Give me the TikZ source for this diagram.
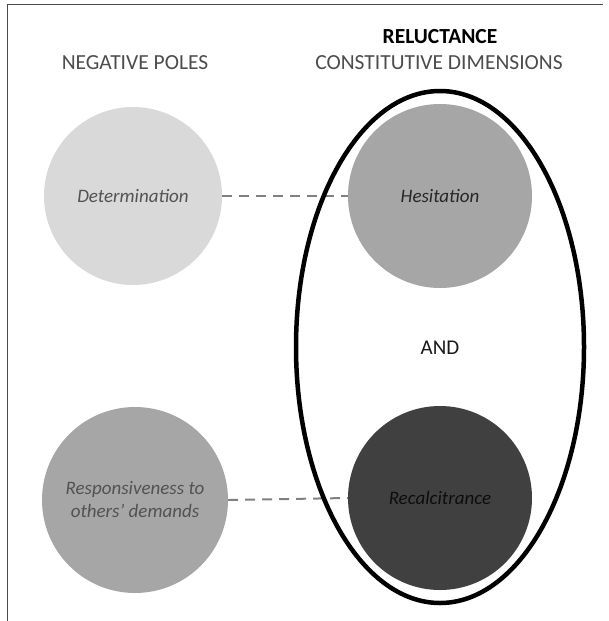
\documentclass[tikz,border=0pt]{standalone}
\usepackage{fontspec}
\setmainfont{Carlito}
\begin{document}
\begin{tikzpicture}[x=1pt,y=-1pt,
  title/.style={text=black!70, font=\fontsize{21.5}{25}\selectfont},
  pole/.style={circle, minimum size=#1, inner sep=0pt, draw=none, align=center,
     text=black!68, font=\fontsize{19}{23}\selectfont\itshape},
  dimlink/.style={dashed, dash pattern=on 10pt off 7pt, draw=black!50, line width=2pt}]
\useasboundingbox (0,0) rectangle (609,621);
\draw[black!70, line width=1.6pt] (7.5,621) -- (7.5,4.5) -- (603,4.5);
% titles
\node[title] (neg) at (135,63) {NEGATIVE POLES};
\node[title, text=black, font=\fontsize{21.5}{25}\selectfont\bfseries] (rel) at (440,37) {RELUCTANCE};
\node[title] (con) at (439,63) {CONSTITUTIVE DIMENSIONS};
% circles
\node[pole=178pt, fill=black!15] (det) at (133,196) {Determination};
\node[pole=184pt, fill=black!35, text=black!85] (hes) at (440,196) {Hesitation};
\node[pole=186pt, fill=black!35] (resp) at (135,500) {Responsiveness to\\others' demands};
\node[pole=184pt, fill=black!75, text=black!95] (rec) at (440,498) {Recalcitrance};
% dashed links
\draw[dimlink] (det.east) -- (hes.west);
\draw[dimlink] (resp.east) -- (rec.west);
% ellipse
\draw[line width=4.5pt] (440,347) ellipse [x radius=144, y radius=256];
\node[text=black!90, font=\fontsize{21}{25}\selectfont] (and) at (440,348) {AND};
\end{tikzpicture}
\end{document}
